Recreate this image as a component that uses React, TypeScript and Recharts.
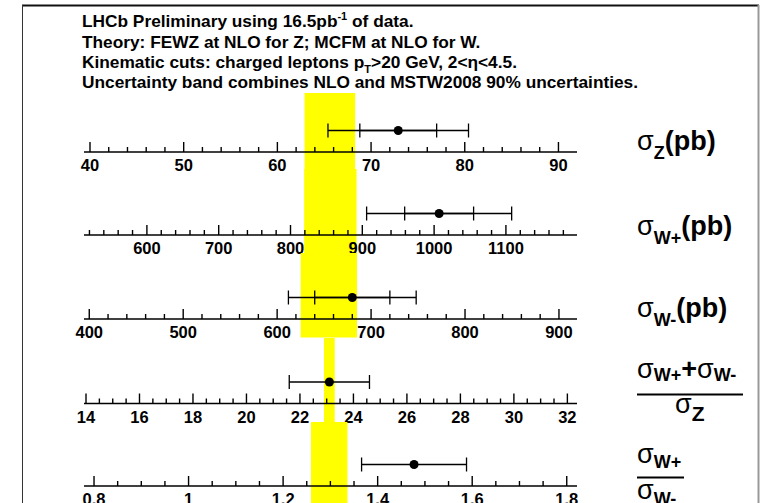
import React from 'react';
import { ScatterChart, Scatter, XAxis, YAxis, ErrorBar, ReferenceArea } from 'recharts';

// Measurements, top to bottom: sigma_Z, sigma_W+, sigma_W-, (W+ + W-)/Z, W+/W-
const measured = [72.9, 1007, 680, 23.1, 1.477];
const statError = [4.1, 48, 40, 0, 0];
const totalError = [7.5, 101, 68, 1.5, 0.111];

// NLO prediction band (low edge, high edge)
const theoryLow = [62.9, 819, 625, 22.9, 1.259];
const theoryHigh = [68.3, 892, 685, 23.3, 1.336];

// axis ranges and labelled ticks
const axisMin = [39.36, 512.4, 394.4, 13.925, 0.7788];
const axisMax = [91.98, 1199, 919.2, 32.36, 1.8217];
const majorTicks = [
  [40, 50, 60, 70, 80, 90],
  [600, 700, 800, 900, 1000, 1100],
  [400, 500, 600, 700, 800, 900],
  [14, 16, 18, 20, 22, 24, 26, 28, 30, 32],
  [0.8, 1, 1.2, 1.4, 1.6, 1.8],
];
const minorStep = [2, 20, 20, 0.5, 0.05];

// pad layout (pixels)
const AXIS_Y = [152, 235, 319, 403, 486];
const BAND_TOP = [93, 169, 253, 337.5, 422];
const BAND_BOTTOM = [169, 253, 337.5, 422, 520];
const PLOT_LEFT = 84;
const PLOT_RIGHT = 577;
const AXIS_H = 26;
const MARK_Y = 21.5;

const FONT = '"Liberation Sans", Arial, Helvetica, sans-serif';

function buildTicks(min: number, max: number, step: number) {
  const out: number[] = [];
  const first = Math.ceil(min / step - 1e-9);
  const last = Math.floor(max / step + 1e-9);
  for (let k = first; k <= last; k++) out.push(+(k * step).toFixed(6));
  return out;
}

function AxisTick(props: any) {
  const { x, y, payload, majors } = props;
  const v = payload.value;
  const major = majors.some((m: number) => Math.abs(m - v) < 1e-6);
  return (
    <g>
      <line x1={x} x2={x} y1={y} y2={y - (major ? 10 : 5)} stroke="#000" strokeWidth={1.4} />
      {major && (
        <text x={x} y={y + 19} textAnchor="middle" fontFamily={FONT} fontWeight="bold" fontSize={16.5} fill="#000">
          {String(v)}
        </text>
      )}
    </g>
  );
}

function Panel({ i }: { i: number }) {
  const top = BAND_TOP[i];
  const plotH = AXIS_Y[i] - top;
  const data = [{ x: measured[i], y: MARK_Y, stat: statError[i], total: totalError[i] }];
  const ticks = buildTicks(axisMin[i], axisMax[i], minorStep[i]);
  return (
    <div style={{ position: 'absolute', left: 0, top }}>
      <ScatterChart
        width={760}
        height={plotH + AXIS_H}
        margin={{ top: 0, right: 760 - PLOT_RIGHT, bottom: 0, left: PLOT_LEFT }}
      >
        <ReferenceArea
          x1={theoryLow[i]}
          x2={theoryHigh[i]}
          y1={-(BAND_BOTTOM[i] - AXIS_Y[i])}
          y2={plotH}
          fill="#ffff00"
          fillOpacity={1}
          stroke="none"
          ifOverflow="visible"
        />
        <XAxis
          type="number"
          dataKey="x"
          domain={[axisMin[i], axisMax[i]]}
          allowDataOverflow
          ticks={ticks}
          interval={0}
          height={AXIS_H}
          tickSize={0}
          tickMargin={0}
          tickLine={false}
          axisLine={{ stroke: '#000', strokeWidth: 1.5 }}
          tick={(p: any) => <AxisTick {...p} majors={majorTicks[i]} />}
        />
        <YAxis type="number" dataKey="y" domain={[0, plotH]} hide allowDataOverflow />
        <Scatter
          data={data}
          isAnimationActive={false}
          fill="#000"
          shape={(p: any) => <circle cx={p.cx} cy={p.cy} r={4.5} fill="#000" />}
        >
          {statError[i] > 0 && (
            <ErrorBar dataKey="stat" direction="x" width={7} stroke="#000" strokeWidth={1.3} isAnimationActive={false} />
          )}
          <ErrorBar dataKey="total" direction="x" width={7} stroke="#000" strokeWidth={1.3} isAnimationActive={false} />
        </Scatter>
      </ScatterChart>
    </div>
  );
}

function Sigma({ x, y, sub, tail, size = 27, subSize = 18, subDy = 9 }: any) {
  return (
    <text x={x} y={y} fontFamily={FONT} fontWeight="bold" fontSize={size} fill="#000">
      <tspan fontWeight="normal">σ</tspan>
      <tspan fontSize={subSize} dy={subDy}>{sub}</tspan>
      {tail && <tspan dy={-subDy}>{tail}</tspan>}
    </text>
  );
}

export default function App() {
  return (
    <div style={{ position: 'absolute', left: 0, top: 0, width: 760, height: 503, overflow: 'hidden', background: '#fff' }}>
      {[0, 1, 2, 3, 4].map((i) => (
        <Panel key={i} i={i} />
      ))}
      <svg width={760} height={503} style={{ position: 'absolute', left: 0, top: 0, pointerEvents: 'none' }}>
        <line x1={22} y1={5.5} x2={759} y2={5.5} stroke="#111" strokeWidth={2} />
        <line x1={22.5} y1={5} x2={22.5} y2={503} stroke="#333" strokeWidth={1} />
        <line x1={758.5} y1={5} x2={758.5} y2={503} stroke="#999" strokeWidth={2} />

        <g fontFamily={FONT} fontWeight="bold" fontSize={17.3} fill="#000">
          <text x={82} y={27}>
            LHCb Preliminary using 16.5pb<tspan fontSize={11} dy={-7}>-1</tspan>
            <tspan dy={7}> of data.</tspan>
          </text>
          <text x={82} y={48}>Theory: FEWZ at NLO for Z; MCFM at NLO for W.</text>
          <text x={82} y={68}>
            Kinematic cuts: charged leptons p<tspan fontSize={11} dy={5}>T</tspan>
            <tspan dy={-5}>{'>20 GeV, 2<η<4.5.'}</tspan>
          </text>
          <text x={82} y={88}>Uncertainty band combines NLO and MSTW2008 90% uncertainties.</text>
        </g>

        <Sigma x={637} y={150} sub="Z" tail="(pb)" />
        <Sigma x={637} y={235} sub="W+" tail="(pb)" />
        <Sigma x={637} y={317} sub="W-" tail="(pb)" />

        <text x={637} y={378} fontFamily={FONT} fontWeight="bold" fontSize={27} fill="#000">
          <tspan fontWeight="normal">σ</tspan>
          <tspan fontSize={18} dy={3}>W+</tspan>
          <tspan dy={-3}>+</tspan>
          <tspan fontWeight="normal">σ</tspan>
          <tspan fontSize={18} dy={3}>W-</tspan>
        </text>
        <line x1={637} y1={394.5} x2={743} y2={394.5} stroke="#000" strokeWidth={2} />
        <Sigma x={675} y={413} sub="Z" subSize={21} subDy={8} />

        <Sigma x={637} y={463} sub="W+" subDy={5} />
        <line x1={637} y1={477.5} x2={684} y2={477.5} stroke="#000" strokeWidth={2} />
        <Sigma x={637} y={499} sub="W-" subDy={6} />
      </svg>
    </div>
  );
}
